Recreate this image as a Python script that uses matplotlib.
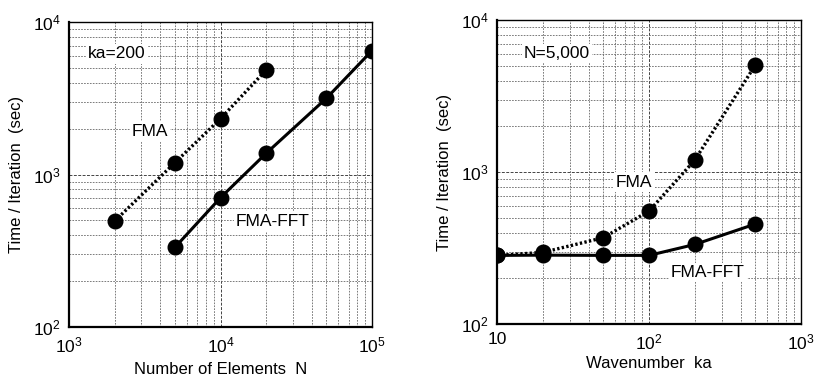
import matplotlib
matplotlib.use("Agg")
import matplotlib.pyplot as plt
from matplotlib.ticker import LogLocator, NullFormatter

plt.rcParams['font.family'] = ['Liberation Sans', 'DejaVu Sans']
plt.rcParams['mathtext.fontset'] = 'custom'
plt.rcParams['mathtext.rm'] = 'Liberation Sans'
plt.rcParams['mathtext.it'] = 'Liberation Sans'

# Left panel: ka = 200
n_fma = [2000, 5000, 10000, 20000]
t_fma_n = [495, 1196, 2323, 4843]
n_fft = [5000, 10000, 20000, 50000, 100000]
t_fft_n = [333, 705, 1377, 3162, 6486]

# Right panel: N = 5,000
ka = [10, 20, 50, 100, 200, 500]
t_fma_ka = [283, 296, 370, 554, 1199, 5058]
t_fft_ka = [283, 284, 283, 283, 334, 455]

left_xticks = [1e3, 1e4, 1e5]
left_xlabels = ['10$^3$', '10$^4$', '10$^5$']
right_xticks = [10, 100, 1000]
right_xlabels = ['10', '10$^2$', '10$^3$']
yticks = [1e2, 1e3, 1e4]
ylabels = ['10$^2$', '10$^3$', '10$^4$']

fig = plt.figure(figsize=(8.14, 3.79), dpi=100)
axL = fig.add_axes([0.0848, 0.137, 0.3722, 0.805])
axR = fig.add_axes([0.6106, 0.145, 0.3735, 0.802])

def style(ax, xlim, xticks, xlabels):
    ax.set_xscale('log')
    ax.set_yscale('log')
    ax.set_xlim(*xlim)
    ax.set_ylim(1e2, 1e4)
    ax.set_xticks(xticks)
    ax.set_xticklabels(xlabels, fontsize=12.5)
    ax.set_yticks(yticks)
    ax.set_yticklabels(ylabels, fontsize=12.5)
    ax.xaxis.set_minor_locator(LogLocator(base=10, subs=range(2, 10)))
    ax.yaxis.set_minor_locator(LogLocator(base=10, subs=range(2, 10)))
    ax.xaxis.set_minor_formatter(NullFormatter())
    ax.yaxis.set_minor_formatter(NullFormatter())
    ax.tick_params(which='both', length=0, pad=6)
    ax.grid(True, which='major', color='#444444', linestyle=(0, (3, 1.5)), linewidth=0.7)
    ax.grid(True, which='minor', color='#666666', linestyle=(0, (2, 1.5)), linewidth=0.6)
    for s in ['left', 'bottom']:
        ax.spines[s].set_linewidth(1.6)
    for s in ['top', 'right']:
        ax.spines[s].set_linewidth(1.0)
    ax.set_ylabel('Time / Iteration  (sec)', fontsize=12, labelpad=6)

style(axL, (1e3, 1e5), left_xticks, left_xlabels)
style(axR, (10, 1000), right_xticks, right_xlabels)

mk = dict(marker='o', markersize=10.5, color='black', markeredgecolor='black')
dotted = (0, (0.7, 0.7))
axL.plot(n_fma, t_fma_n, linestyle=dotted, linewidth=2.4, **mk)
axL.plot(n_fft, t_fft_n, linestyle='-', linewidth=2.2, **mk)
axR.plot(ka, t_fma_ka, linestyle=dotted, linewidth=2.4, **mk)
axR.plot(ka, t_fft_ka, linestyle='-', linewidth=2.2, **mk)

box = dict(facecolor='white', edgecolor='none', pad=1.5)
fs = 12.5
axL.text(2074, 6170, 'ka=200', fontsize=fs, ha='center', va='center', bbox=box)
axL.text(3428, 1928, 'FMA', fontsize=fs, ha='center', va='center', bbox=box)
axL.text(22200, 489, 'FMA-FFT', fontsize=fs, ha='center', va='center', bbox=box)
axR.text(24.8, 6065, 'N=5,000', fontsize=fs, ha='center', va='center', bbox=box)
axR.text(79.6, 860, 'FMA', fontsize=fs, ha='center', va='center', bbox=box)
axR.text(244, 219, 'FMA-FFT', fontsize=fs, ha='center', va='center', bbox=box)

fig.text((69 + 372) / 2 / 814, 1 - 369 / 379, 'Number of Elements  N', fontsize=12,
         ha='center', va='center')
fig.text((497 + 801) / 2 / 814, 1 - 364 / 379, 'Wavenumber  ka', fontsize=12,
         ha='center', va='center')

fig.savefig('out.png', dpi=100)
